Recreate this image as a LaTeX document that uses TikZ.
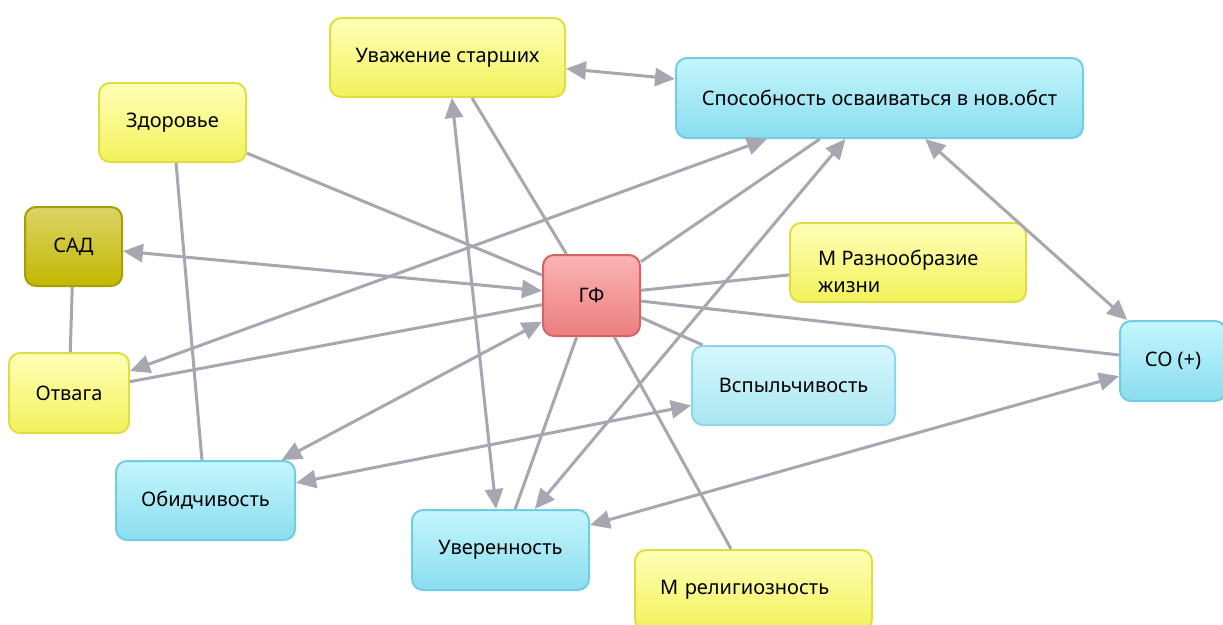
\documentclass[tikz,border=0pt]{standalone}
\usepackage{fontspec}
\setmainfont{Noto Sans}
\usetikzlibrary{arrows.meta}

\definecolor{yelTop}{HTML}{FFFFB8}
\definecolor{yelBot}{HTML}{F2F25A}
\definecolor{yelLine}{HTML}{DEDE44}
\definecolor{oliTop}{HTML}{DCD468}
\definecolor{oliBot}{HTML}{C2B800}
\definecolor{oliLine}{HTML}{A89E00}
\definecolor{redTop}{HTML}{FBB4B4}
\definecolor{redBot}{HTML}{EB7E7E}
\definecolor{redLine}{HTML}{D46464}
\definecolor{cyTop}{HTML}{C4F6FD}
\definecolor{cyBot}{HTML}{8ADDEF}
\definecolor{cyLine}{HTML}{72CDE2}
\definecolor{lcyTop}{HTML}{D6F7FD}
\definecolor{lcyBot}{HTML}{A9E6F2}
\definecolor{edgeGray}{HTML}{A6A7B0}

\tikzset{
  box/.style={rounded corners=11pt, line width=2pt, inner sep=0pt,
    font=\fontsize{20}{27}\selectfont},
  yelbox/.style={box, draw=yelLine, top color=yelTop, bottom color=yelBot},
  olibox/.style={box, draw=oliLine, top color=oliTop, bottom color=oliBot},
  redbox/.style={box, draw=redLine, top color=redTop, bottom color=redBot},
  cybox/.style={box, draw=cyLine, top color=cyTop, bottom color=cyBot},
  lcybox/.style={box, draw=cyLine!80, top color=lcyTop, bottom color=lcyBot},
  link/.style={draw=edgeGray, line width=3pt},
  both/.style={link, {Triangle[length=20pt,width=18pt]}-{Triangle[length=20pt,width=18pt]}}
}

\begin{document}
\begin{tikzpicture}[x=1pt,y=-1pt]
    \useasboundingbox (0,0) rectangle (1223,624);

    \node[yelbox, minimum width=235pt, minimum height=79pt] (uvazh) at (447.5,57.5) {Уважение старших};
    \node[cybox, minimum width=407pt, minimum height=80pt] (sposob) at (879.5,98) {Способность осваиваться в нов.обст};
    \node[yelbox, minimum width=147pt, minimum height=79pt] (zdorov) at (172.5,122.5) {Здоровье};
    \node[olibox, minimum width=97pt, minimum height=79pt] (sad) at (73.5,246.5) {САД};
    \node[redbox, minimum width=97pt, minimum height=81pt] (gf) at (591.5,295.5) {ГФ};
    \node[yelbox, minimum width=236pt, minimum height=79pt] (razn) at (908,262.5) {};
    \node[anchor=north west, inner sep=0pt, align=left, font=\fontsize{20}{27}\selectfont] (razntxt) at (818,250) {М Разнообразие\\жизни};
    \node[cybox, minimum width=106pt, minimum height=80pt] (so) at (1173,361) {СО (+)};
    \node[yelbox, minimum width=120pt, minimum height=80pt] (otvaga) at (69,393) {Отвага};
    \node[lcybox, minimum width=203pt, minimum height=79pt] (vspyl) at (793.5,385.5) {Вспыльчивость};
    \node[cybox, minimum width=179pt, minimum height=79pt] (obid) at (205.5,500.5) {Обидчивость};
    \node[cybox, minimum width=177pt, minimum height=80pt] (uveren) at (500.5,550) {Уверенность};
    \node[yelbox, minimum width=237pt, minimum height=80pt, text width=187pt, align=left] (relig) at (753.5,590) {М религиозность};

    % plain links
    \draw[link] (uvazh) -- (gf);
    \draw[link] (zdorov) -- (gf);
    \draw[link] (zdorov) -- (obid);
    \draw[link] (sad) -- (otvaga);
    \draw[link] (otvaga) -- (gf);
    \draw[link] (gf) -- (sposob);
    \draw[link] (gf) -- (razn);
    \draw[link] (gf) -- (so);
    \draw[link] (gf) -- (vspyl);
    \draw[link] (gf) -- (uveren);
    \draw[link] (gf) -- (relig);

    % two-way links
    \draw[both] (uvazh) -- (sposob);
    \draw[both] (uvazh) -- (uveren);
    \draw[both] (sad) -- (gf);
    \draw[both] (otvaga) -- (sposob);
    \draw[both] (obid) -- (gf);
    \draw[both] (obid) -- (vspyl);
    \draw[both] (uveren) -- (sposob);
    \draw[both] (uveren) -- (so);
    \draw[both] (sposob) -- (so);
\end{tikzpicture}
\end{document}
